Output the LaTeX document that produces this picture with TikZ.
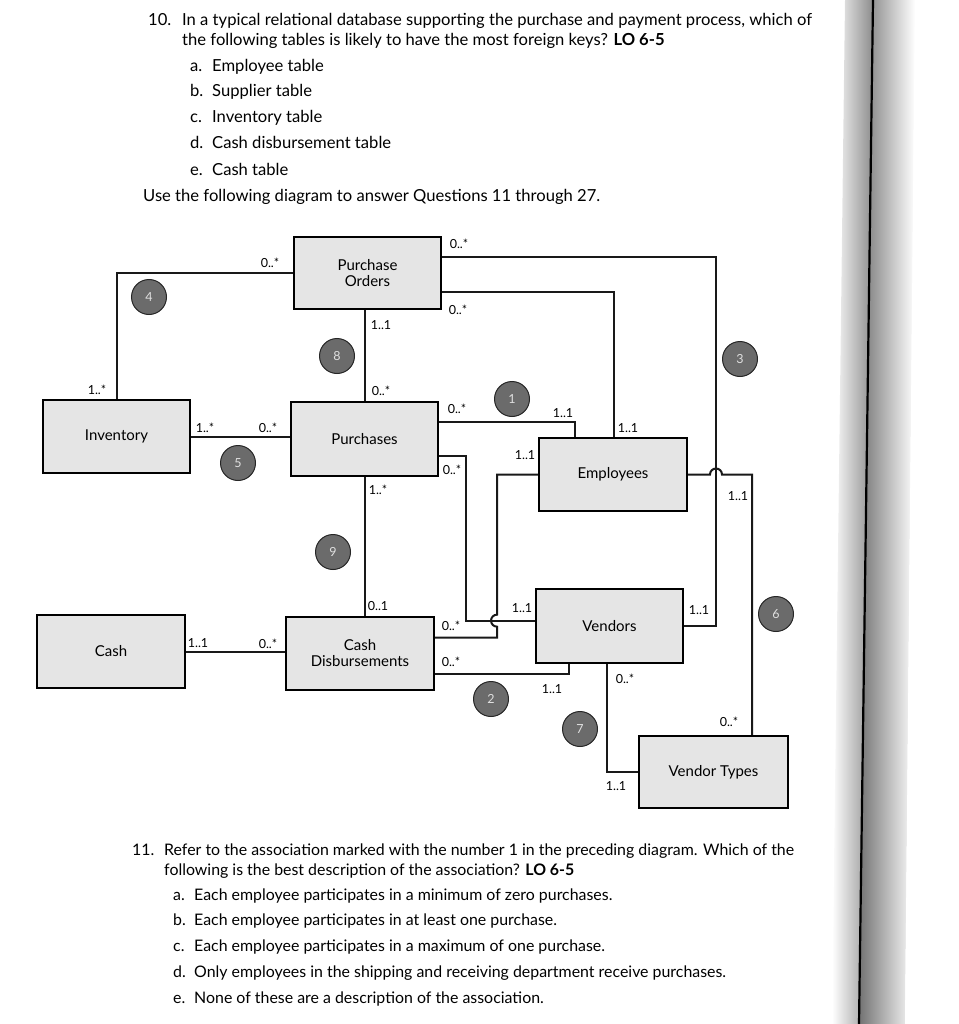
\documentclass[tikz,border=0pt]{standalone}
\usepackage{fontspec}
\setmainfont{Lato}
\usetikzlibrary{calc}
\begin{document}
\begin{tikzpicture}[x=1pt,y=-1pt,
  tbl/.style={draw=black, line width=2.2pt, fill=black!10, inner sep=0pt, align=center, font=\fontsize{15}{16}\selectfont},
  conn/.style={line width=2pt, draw=black!90},
  lbl/.style={font=\fontsize{12.5}{13}\selectfont, inner sep=0pt},
  badge/.style={circle, draw=black!85, line width=1pt, fill=black!58, text=black!12, minimum size=35pt, inner sep=0pt, font=\fontsize{12.5}{12}\selectfont},
  qtext/.style={anchor=base west, inner sep=0pt, font=\fontsize{16.6}{18}\selectfont},
  qtextb/.style={anchor=base west, inner sep=0pt, font=\fontsize{15.9}{18}\selectfont}]
\useasboundingbox (0,0) rectangle (958,1024);

% page gutter
\shade[left color=white, right color=black!45] (845,0) -- (873,0) -- (859,1024) -- (832,1024) -- cycle;
\shade[left color=black!55, right color=white] (873,0) -- (915,0) -- (905,1024) -- (859,1024) -- cycle;
\fill[white] (915,0) -- (958,0) -- (958,1024) -- (905,1024) -- cycle;
\draw[line width=2.2pt] (873,0) -- (859,1024);

% Question 10
\node[qtext] (q10n) at (148,26) {10.};
\node[qtext] (q10l1) at (182,26) {In a typical relational database supporting the purchase and payment process, which of};
\node[qtext] (q10l2) at (182,46) {the following tables is likely to have the most foreign keys? \textbf{LO 6-5}};
\node[qtext] (q10a) at (190,72) {a.};  \node[qtext] (q10at) at (212,72) {Employee table};
\node[qtext] (q10b) at (190,97) {b.};  \node[qtext] (q10bt) at (212,97) {Supplier table};
\node[qtext] (q10c) at (190,123) {c.}; \node[qtext] (q10ct) at (212,123) {Inventory table};
\node[qtext] (q10d) at (190,149) {d.}; \node[qtext] (q10dt) at (212,149) {Cash disbursement table};
\node[qtext] (q10e) at (190,176) {e.}; \node[qtext] (q10et) at (212,176) {Cash table};
\node[qtext] (use) at (143,202) {Use the following diagram to answer Questions 11 through 27.};

% Tables
\node[tbl, minimum width=147pt, minimum height=72pt] (po)   at (367.5,273)   {Purchase\\Orders};
\node[tbl, minimum width=147pt, minimum height=73pt] (inv)  at (116.5,436.5) {Inventory};
\node[tbl, minimum width=147pt, minimum height=74pt] (pur)  at (364.5,439)   {Purchases};
\node[tbl, minimum width=148pt, minimum height=73pt] (emp)  at (613,474.5)   {Employees};
\node[tbl, minimum width=148pt, minimum height=73pt] (cash) at (111,651.5)   {Cash};
\node[tbl, minimum width=148pt, minimum height=73pt] (cd)   at (360,653.5)   {Cash\\Disbursements};
\node[tbl, minimum width=147pt, minimum height=74pt] (ven)  at (609.5,626)   {Vendors};
\node[tbl, minimum width=149pt, minimum height=72pt] (vt)   at (713.5,772)   {Vendor Types};

% helper coordinates
\coordinate (poE1) at ($(po.north east)!0.29!(po.south east)$);
\coordinate (poE2) at ($(po.north east)!0.75!(po.south east)$);
\coordinate (purE1) at ($(pur.north east)!0.28!(pur.south east)$);
\coordinate (purE2) at ($(pur.north east)!0.72!(pur.south east)$);
\coordinate (empN1) at ($(emp.north west)!0.245!(emp.north east)$);
\coordinate (empN2) at ($(emp.north west)!0.505!(emp.north east)$);
\coordinate (venW) at ($(ven.north west)!0.43!(ven.south west)$);
\coordinate (venS1) at ($(ven.south west)!0.23!(ven.south east)$);
\coordinate (venS2) at ($(ven.south west)!0.483!(ven.south east)$);
\coordinate (cdE1) at ($(cd.north east)!0.29!(cd.south east)$);
\coordinate (cdE2) at ($(cd.north east)!0.767!(cd.south east)$);
\coordinate (bend3) at (716,0);
\coordinate (bend6) at (752,0);
\coordinate (bend9) at (466,0);
\coordinate (bendE) at (497,0);

% Connectors
\draw[conn] (po.west) -| (inv.north);
\draw[conn] (pur.north |- po.south) -- (pur.north);
\draw[conn] (inv.east) -- (inv.east -| pur.west);
\draw[conn] (pur.south) -- (pur.south |- cd.north);
\draw[conn] (cash.east) -- (cash.east -| cd.west);
\draw[conn] (poE1) -- (poE1 -| bend3) -- (bend3 |- ven.east) -- (ven.east);
\draw[conn] (poE2) -| (empN2);
\draw[conn] (purE1) -| (empN1);
\draw[conn] (emp.east) -- ($(emp.east -| bend3)+(-6,0)$) arc[start angle=180, end angle=0, radius=6pt] -- (emp.east -| bend6) -- (bend6 |- vt.north);
\draw[conn] (purE2) -- (purE2 -| bend9) -- (bend9 |- venW) -- (venW);
\draw[conn] (emp.west) -- (emp.west -| bendE) -- ($(bendE |- venW)+(0,-6)$) arc[start angle=90, end angle=270, radius=6pt] -- (bendE |- cdE1) -- (cdE1);
\draw[conn] (cdE2) -| (venS1);
\draw[conn] (venS2) |- (vt.west);

% Multiplicities
\node[lbl] (m1) at (270,263) {0..*};
\node[lbl] (m2) at (97,390) {1..*};
\node[lbl] (m3) at (381,325) {1..1};
\node[lbl] (m4) at (381,391) {0..*};
\node[lbl] (m5) at (205,428) {1..*};
\node[lbl] (m6) at (268,428) {0..*};
\node[lbl] (m7) at (378,490) {1..*};
\node[lbl] (m8) at (459,244) {0..*};
\node[lbl] (m9) at (458,310) {0..*};
\node[lbl] (m10) at (628,428) {1..1};
\node[lbl] (m11) at (563,413) {1..1};
\node[lbl] (m12) at (457,409) {0..*};
\node[lbl] (m13) at (525,455) {1..1};
\node[lbl] (m14) at (452,470) {0..*};
\node[lbl] (m15) at (738,496) {1..1};
\node[lbl] (m16) at (378,606) {0..1};
\node[lbl] (m17) at (198,643) {1..1};
\node[lbl] (m18) at (268,644) {0..*};
\node[lbl] (m19) at (451,626) {0..*};
\node[lbl] (m20) at (451,662) {0..*};
\node[lbl] (m21) at (522,608) {1..1};
\node[lbl] (m22) at (699,610) {1..1};
\node[lbl] (m23) at (552,689) {1..1};
\node[lbl] (m24) at (625,679) {0..*};
\node[lbl] (m25) at (729,722) {0..*};
\node[lbl] (m26) at (616,786) {1..1};

% Badges
\node[badge] (b1) at (512,399) {1};
\node[badge] (b2) at (491,699) {2};
\node[badge] (b3) at (740,359) {3};
\node[badge] (b4) at (149,297) {4};
\node[badge] (b5) at (238,463) {5};
\node[badge] (b6) at (776,614) {6};
\node[badge] (b7) at (580,729) {7};
\node[badge] (b8) at (337,356) {8};
\node[badge] (b9) at (333,552) {9};

% Question 11
\node[qtextb] (q11n) at (132,855) {11.};
\node[qtextb] (q11l1) at (164,855) {Refer to the association marked with the number 1 in the preceding diagram. Which of the};
\node[qtextb] (q11l2) at (164,875) {following is the best description of the association? \textbf{LO 6-5}};
\node[qtextb] (q11a) at (173,900) {a.};  \node[qtextb] (q11at) at (194,900) {Each employee participates in a minimum of zero purchases.};
\node[qtextb] (q11b) at (173,925) {b.};  \node[qtextb] (q11bt) at (194,925) {Each employee participates in at least one purchase.};
\node[qtextb] (q11c) at (173,951) {c.};  \node[qtextb] (q11ct) at (194,951) {Each employee participates in a maximum of one purchase.};
\node[qtextb] (q11d) at (173,977) {d.};  \node[qtextb] (q11dt) at (194,977) {Only employees in the shipping and receiving department receive purchases.};
\node[qtextb] (q11e) at (173,1003) {e.}; \node[qtextb] (q11et) at (194,1003) {None of these are a description of the association.};
\end{tikzpicture}
\end{document}
